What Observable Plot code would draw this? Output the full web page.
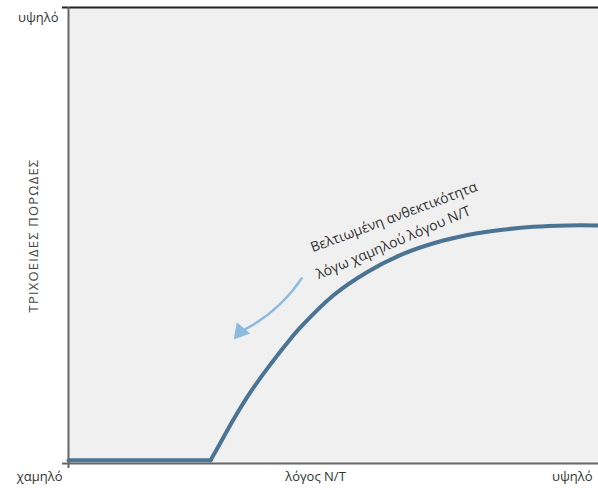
<!DOCTYPE html>
<html>
<head>
<meta charset="utf-8">
<script src="https://cdn.jsdelivr.net/npm/d3@7"></script>
<script src="https://cdn.jsdelivr.net/npm/@observablehq/plot@0.6"></script>
<style>
  html, body { margin: 0; padding: 0; background: #ffffff; }
  #chart svg { display: block; font-family: "Open Sans", "Noto Sans", sans-serif; }
</style>
</head>
<body>
<div id="chart"></div>
<script>
// Curve: resilience vs N/T ratio (relative units 0–100)
const curveX = [0, 26.8, 28.7, 31.1, 34.3, 37.5, 41.3, 43.8, 50.0, 56.4, 62.6, 68.9, 75.3, 81.5, 87.7, 94.2, 100];
const curveY = [0.7, 0.7, 4.6, 9.6, 15.6, 20.8, 26.5, 29.9, 36.9, 42.0, 45.7, 48.3, 50.1, 51.2, 51.9, 52.2, 52.2];
const flatEnd = 1; // index where the flat segment ends and the rise begins

// Axis tick labels
const xTickValues = [0, 46.6, 100];
const xTickLabels = ["χαμηλό", "λόγος N/T", "υψηλό"];
const xTickAnchors = ["end", "middle", "end"];
const yTickValues = [100];
const yTickLabels = ["υψηλό"];
const yTitle = "ΤΡΙΧΟΕΙΔΕΣ ΠΟΡΩΔΕΣ";

// Annotation
const noteLines = ["Βελτιωμένη ανθεκτικότητα", "λόγω χαμηλού λόγου N/T"];
const noteX = [61.4, 61.3];
const noteY = [54.0, 48.4];
const noteRotate = [-20.5, -23];
const arrowFrom = [44.0, 40.6];
const arrowTo = [32.4, 28.9];

const curve = curveX.map((x, i) => ({x, y: curveY[i], i}));
const xTicks = xTickValues.map((v, i) => ({v, label: xTickLabels[i], anchor: xTickAnchors[i]}));
const yTicks = yTickValues.map((v, i) => ({v, label: yTickLabels[i]}));
const notes = noteLines.map((t, i) => ({t, x: noteX[i], y: noteY[i], r: noteRotate[i]}));
const arrows = [{x1: arrowFrom[0], y1: arrowFrom[1], x2: arrowTo[0], y2: arrowTo[1]}];
const heads = [{x: arrowTo[0], y: arrowTo[1]}];

const chart = Plot.plot({
  width: 598,
  height: 490,
  marginLeft: 68,
  marginRight: 0,
  marginTop: 7,
  marginBottom: 27,
  x: {domain: [0, 100], axis: null},
  y: {domain: [0, 100], axis: null},
  style: {fontFamily: "'Open Sans', 'Noto Sans', sans-serif", fontSize: "13px", color: "#333"},
  marks: [
    Plot.frame({fill: "#f0f0f0", stroke: null}),
    // top border
    Plot.ruleY([100], {stroke: "#222", strokeWidth: 2, insetLeft: -6}),
    // bottom axis line
    Plot.ruleY([0], {stroke: "#666", strokeWidth: 2, insetLeft: -6}),
    // left axis line
    Plot.ruleX([0], {stroke: "#666", strokeWidth: 2, insetBottom: -5}),
    // x tick labels
    Plot.text(xTicks.filter(d => d.anchor === "end"), {
      x: "v", y: 0, text: "label", textAnchor: "end", dy: 13, dx: -6, fill: "#333", fontSize: 13
    }),
    Plot.text(xTicks.filter(d => d.anchor === "middle"), {
      x: "v", y: 0, text: "label", textAnchor: "middle", dy: 13, fill: "#333", fontSize: 13
    }),
    // y tick labels
    Plot.text(yTicks, {x: 0, y: "v", text: "label", textAnchor: "end", dx: -10, dy: 10, fill: "#333", fontSize: 13}),
    // y title
    Plot.text([yTitle], {frameAnchor: "left", textAnchor: "middle", text: d => d, rotate: -90, dx: -35, fill: "#444", fontSize: 13}),
    // curve: flat part then smooth rise
    Plot.line(curve.filter(d => d.i <= flatEnd), {x: "x", y: "y", stroke: "#4b7394", strokeWidth: 4}),
    Plot.line(curve.filter(d => d.i >= flatEnd), {x: "x", y: "y", curve: "catmull-rom", stroke: "#4b7394", strokeWidth: 4}),
    // annotation
    Plot.text(notes, {x: "x", y: "y", text: "t", rotate: "r", fill: "#333", fontSize: 14}),
    Plot.arrow(arrows, {x1: "x1", y1: "y1", x2: "x2", y2: "y2", bend: 15, stroke: "#8dbbe0", strokeWidth: 2.5, headLength: 0}),
    Plot.dot(heads, {x: "x", y: "y", symbol: "triangle", r: 6.5, rotate: 220, fill: "#8dbbe0", stroke: null})
  ]
});
document.getElementById("chart").appendChild(chart);
d3.select(chart).selectAll("text").filter(function() { return this.textContent === yTitle; }).attr("letter-spacing", "1.2px");
</script>
</body>
</html>
